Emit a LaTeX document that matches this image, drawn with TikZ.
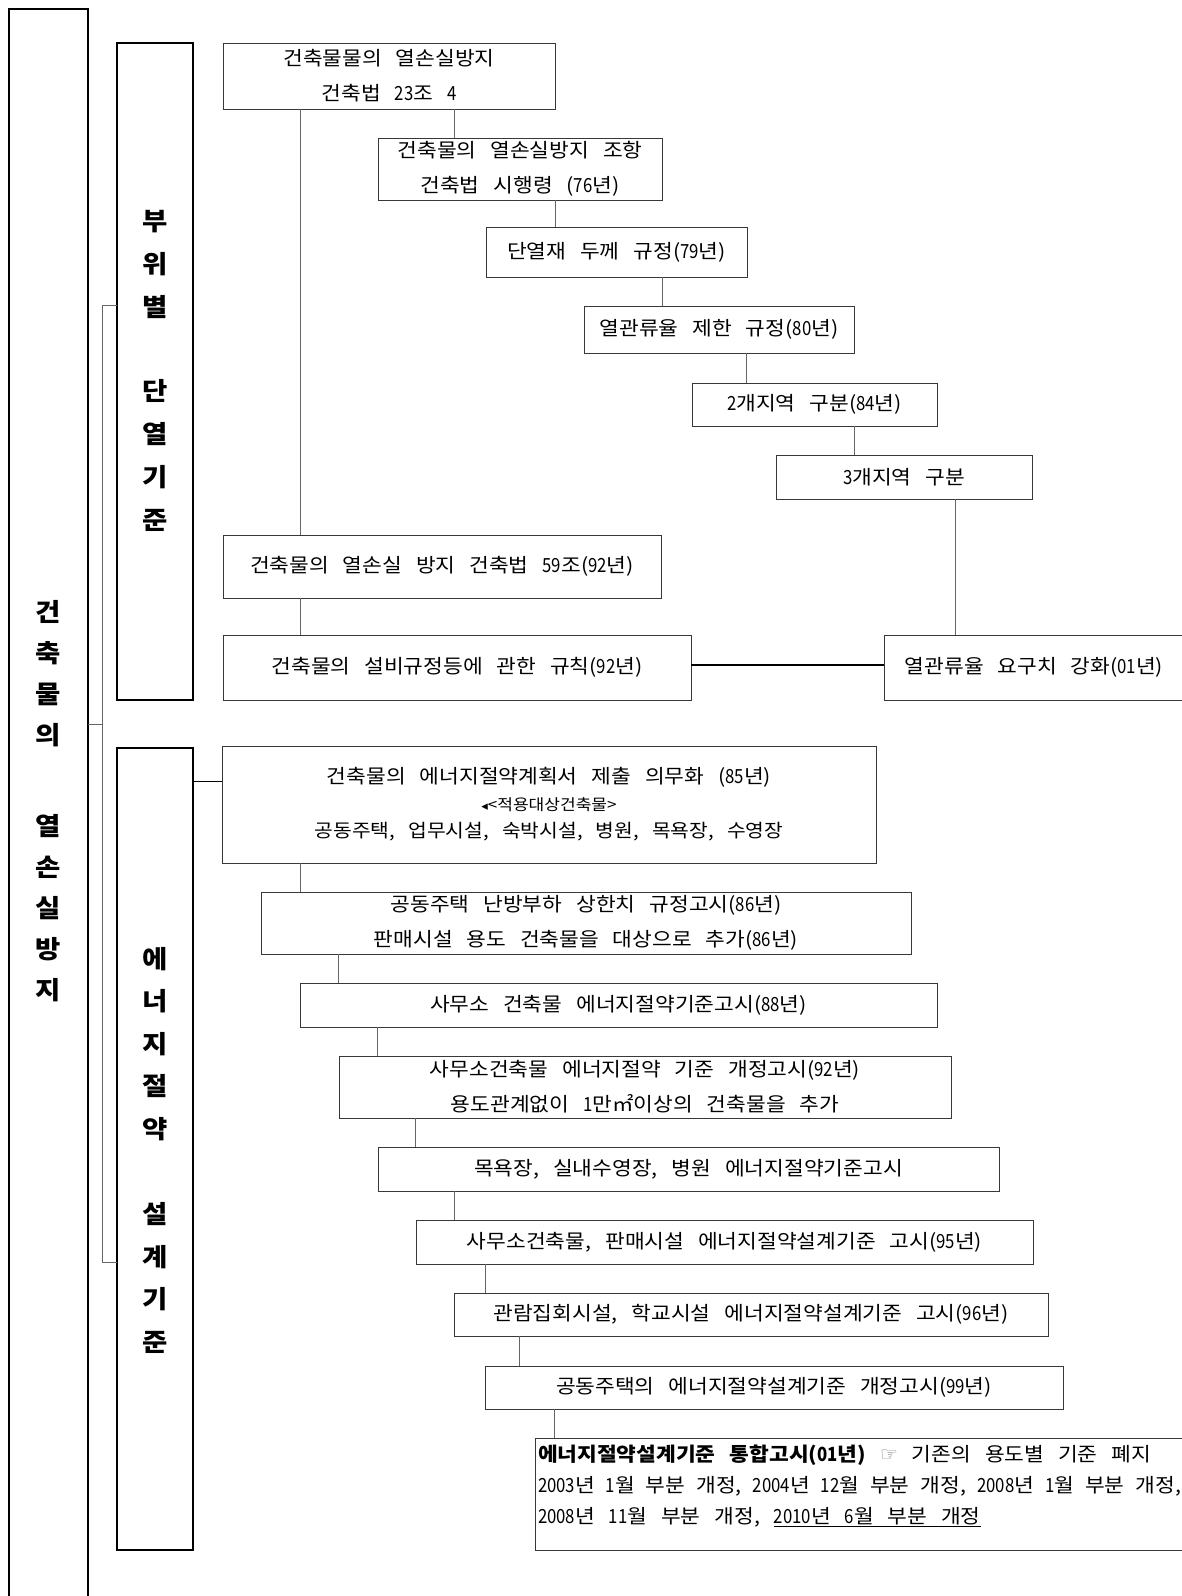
\documentclass[tikz,border=0pt]{standalone}
\usepackage{fontspec}
\setmainfont{Noto Sans CJK KR}[FakeStretch=1.1, WordSpace=2.9]
\newfontfamily\digitfont{Noto Sans CJK KR}[FakeStretch=0.86]
\newfontfamily\symfont{DejaVu Sans}
\newcommand\dg[1]{{\digitfont#1}}
\begin{document}
\begin{tikzpicture}[x=1pt,y=-1pt,
 every node/.style={inner sep=0pt, outer sep=0pt},
 box/.style={draw=black!78, line width=1pt, anchor=north west, align=center, font=\fontsize{19.5}{35}\selectfont},
 frame/.style={draw=black, line width=2.6pt, anchor=north west},
 conn/.style={draw=black!60, line width=0.9pt},
 darkconn/.style={draw=black, line width=1.1pt},
 side/.style={align=center, font=\fontsize{25}{41}\selectfont\bfseries}]
\useasboundingbox (0,0) rectangle (1182,1596);
\fill[white] (0,0) rectangle (1182,1596);
\clip (0,0) rectangle (1182,1596);

% frames
\node[frame, minimum width=79pt, minimum height=1650pt] (outer) at (9,9) {};
\node[frame, minimum width=76pt, minimum height=657pt] (left1) at (117,43) {};
\node[frame, minimum width=76pt, minimum height=802pt] (left2) at (117,748) {};

\node[side] (t0) at (48,801) {건\\축\\물\\의\\[50pt]열\\손\\실\\방\\지};
\node[side, font=\fontsize{25}{43}\selectfont\bfseries] (t1) at (155,371) {부\\위\\별\\[41pt]단\\열\\기\\준};
\node[side, font=\fontsize{25}{42.5}\selectfont\bfseries] (t2) at (155,1150) {에\\너\\지\\절\\약\\[43pt]설\\계\\기\\준};

% upper chain
\node[box, minimum width=332pt, minimum height=66pt] (A) at (223,43) {건축물물의 열손실방지\\건축법 \dg{23}조 \dg{4}};
\node[box, minimum width=284pt, minimum height=62pt] (B) at (378,138) {건축물의 열손실방지 조항\\건축법 시행령 (\dg{76}년)};
\node[box, minimum width=261pt, minimum height=50pt] (C) at (486,227) {단열재 두께 규정(\dg{79}년)};
\node[box, minimum width=270pt, minimum height=47pt] (D) at (584,306) {열관류율 제한 규정(\dg{80}년)};
\node[box, minimum width=245pt, minimum height=43pt] (E) at (692,383) {\dg{2}개지역 구분(\dg{84}년)};
\node[box, minimum width=256pt, minimum height=44pt] (F) at (776,455) {\dg{3}개지역 구분};
\node[box, minimum width=438pt, minimum height=63pt] (G) at (223,535) {건축물의 열손실 방지 건축법 \dg{59}조(\dg{92}년)};
\node[box, minimum width=468pt, minimum height=65pt] (H) at (223,635) {건축물의 설비규정등에 관한 규칙(\dg{92}년)};
\node[box, minimum width=300pt, minimum height=65pt] (I) at (884,635) {열관류율 요구치 강화(\dg{01}년)};

% lower chain
\node[box, minimum width=654pt, minimum height=117pt, font=\fontsize{19.5}{27}\selectfont] (J) at (222,746) {건축물의 에너지절약계획서 제출 의무화 (\dg{85}년)\\{\fontsize{15.5}{27}\selectfont{\symfont\fontsize{13}{27}\selectfont ◂}<적용대상건축물>}\\{\fontsize{18.5}{27}\selectfont 공동주택, 업무시설, 숙박시설, 병원, 목욕장, 수영장}};
\node[box, minimum width=650pt, minimum height=62pt] (K) at (261,892) {공동주택 난방부하 상한치 규정고시(\dg{86}년)\\판매시설 용도 건축물을 대상으로 추가(\dg{86}년)};
\node[box, minimum width=637pt, minimum height=44pt] (L) at (300,983) {사무소 건축물 에너지절약기준고시(\dg{88}년)};
\node[box, minimum width=612pt, minimum height=62pt] (M) at (339,1056) {사무소건축물 에너지절약 기준 개정고시(\dg{92}년)\\용도관계없이 \dg{1}만㎡이상의 건축물을 추가};
\node[box, minimum width=621pt, minimum height=44pt] (N) at (378,1147) {목욕장, 실내수영장, 병원 에너지절약기준고시};
\node[box, minimum width=617pt, minimum height=44pt] (O) at (416,1220) {사무소건축물, 판매시설 에너지절약설계기준 고시(\dg{95}년)};
\node[box, minimum width=594pt, minimum height=43pt] (P) at (454,1293) {관람집회시설, 학교시설 에너지절약설계기준 고시(\dg{96}년)};
\node[box, minimum width=578pt, minimum height=43pt] (Q) at (485,1366) {공동주택의 에너지절약설계기준 개정고시(\dg{99}년)};
\node[box, minimum width=700pt, minimum height=112pt] (R) at (535,1438) {};
\node[anchor=west, align=left, font=\fontsize{19.5}{31}\selectfont] (Rt) at (538,1486) {\textbf{에너지절약설계기준 통합고시(\dg{01}년)} {\symfont\color{black!50}\fontsize{20}{31}\selectfont ☞} 기존의 용도별 기준 폐지\\{\spaceskip=11pt\dg{2003}년 \dg{1}월 부분 개정, \dg{2004}년 \dg{12}월 부분 개정, \dg{2008}년 \dg{1}월 부분 개정,}\\\dg{2008}년 \dg{11}월 부분 개정, \underline{\dg{2010}년 \dg{6}월 부분 개정}};

% x positions of connectors
\coordinate (x300) at (300,0);
\coordinate (x454) at (454,0);
\coordinate (x555) at (555,0);
\coordinate (x662) at (662,0);
\coordinate (x746) at (746,0);
\coordinate (x854) at (854,0);
\coordinate (x955) at (955,0);
\coordinate (x338) at (338,0);
\coordinate (x377) at (377,0);
\coordinate (x415) at (415,0);
\coordinate (x485) at (485,0);
\coordinate (x519) at (519,0);
\coordinate (x554) at (554,0);
\coordinate (y665) at (0,665);
\coordinate (y781) at (0,781);
\coordinate (y305) at (0,305);
\coordinate (y1262) at (0,1262);
\coordinate (y724) at (0,724);
\coordinate (bx) at (102,0);

% upper connectors
\draw[conn] (A.south -| x300) -- (G.north -| x300);
\draw[conn] (A.south -| x454) -- (B.north -| x454);
\draw[conn] (B.south -| x555) -- (C.north -| x555);
\draw[conn] (C.south -| x662) -- (D.north -| x662);
\draw[conn] (D.south -| x746) -- (E.north -| x746);
\draw[conn] (E.south -| x854) -- (F.north -| x854);
\draw[conn] (F.south -| x955) -- (I.north -| x955);
\draw[conn] (G.south -| x300) -- (H.north -| x300);
\draw[darkconn] (H.east |- y665) -- (I.west |- y665);

% lower connectors
\draw[darkconn, line width=1pt] (left2.east |- y781) -- (J.west |- y781);
\draw[conn] (J.south -| x300) -- (K.north -| x300);
\draw[conn] (K.south -| x338) -- (L.north -| x338);
\draw[conn] (L.south -| x377) -- (M.north -| x377);
\draw[conn] (M.south -| x415) -- (N.north -| x415);
\draw[conn] (N.south -| x454) -- (O.north -| x454);
\draw[conn] (O.south -| x485) -- (P.north -| x485);
\draw[conn] (P.south -| x519) -- (Q.north -| x519);
\draw[conn] (Q.south -| x554) -- (R.north -| x554);

% bracket
\draw[conn] (left1.west |- y305) -- (bx |- y305) -- (bx |- y1262) -- (left2.west |- y1262);
\draw[conn] (outer.east |- y724) -- (bx |- y724);
\end{tikzpicture}
\end{document}
